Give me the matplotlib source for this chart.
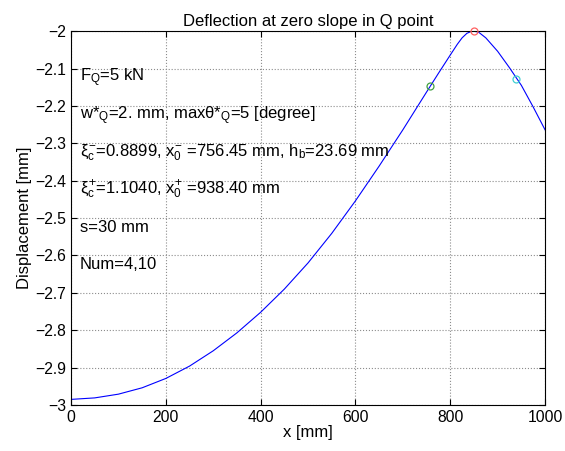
import matplotlib.pyplot as plt
import numpy as np

plt.rcParams['font.family'] = ['Liberation Sans', 'DejaVu Sans']
plt.rcParams['mathtext.fontset'] = 'custom'
plt.rcParams['mathtext.rm'] = 'Liberation Sans'
plt.rcParams['mathtext.it'] = 'Liberation Sans'
plt.rcParams['mathtext.bf'] = 'Liberation Sans:bold'

# curve
x_mm = [0, 50, 100, 150, 200, 250, 300, 350, 400, 450, 500, 550, 600,
        650, 700, 750, 775, 800, 815, 825, 835, 843, 850, 860, 875, 900,
        925, 950, 975, 1000]
w_mm = [-2.985, -2.981, -2.971, -2.954, -2.929, -2.896, -2.855, -2.807,
        -2.752, -2.690, -2.620, -2.541, -2.454, -2.361, -2.264, -2.163,
        -2.113, -2.064, -2.035, -2.018, -2.006, -2.0014, -2.000, -2.003,
        -2.018, -2.054, -2.098, -2.145, -2.203, -2.264]

# marked points
pt_x = [850, 756.45, 938.40]
pt_y = [-2.0, -2.148, -2.127]
pt_col = ['#ff6060', '#40a040', '#40d0d0']

notes = ['F$_Q$=5 kN',
         'w*$_Q$=2. mm, max\u03b8*$_Q$=5 [degree]',
         '$\\xi_c^{-}$=0.8899, $x_0^{-}$ =756.45 mm, h$_b$=23.69 mm',
         '$\\xi_c^{+}$=1.1040, $x_0^{+}$ =938.40 mm',
         's=30 mm',
         'Num=4,10']

fig = plt.figure(figsize=(5.65, 4.51), dpi=100)
ax = fig.add_axes([0.1257, 0.102, 0.839, 0.829])

ax.plot(x_mm, w_mm, color='blue', lw=0.8)
for px, py, c in zip(pt_x, pt_y, pt_col):
    ax.plot(px, py, 'o', mfc='none', mec=c, ms=5, mew=0.9, clip_on=False, zorder=5)

for i, t in enumerate(notes):
    ax.text(19, -2.125 - 0.1 * i, t, fontsize=12, va='center', ha='left')

ax.set_xlim(0, 1000)
ax.set_ylim(-3, -2)
ax.set_xticks(np.arange(0, 1001, 200))
ax.set_yticks(np.round(np.arange(-3, -1.99, 0.1), 1))
ax.set_yticklabels(['\u22123', '\u22122.9', '\u22122.8', '\u22122.7', '\u22122.6',
                    '\u22122.5', '\u22122.4', '\u22122.3', '\u22122.2', '\u22122.1',
                    '\u22122'])
ax.tick_params(direction='in', top=True, right=True, labelsize=11.3, length=4)
ax.grid(True, ls=':', color='0.55', lw=0.8)

ax.set_title('Deflection at zero slope in Q point', fontsize=12, pad=4)
ax.set_xlabel('x [mm]', fontsize=12, labelpad=0)
ax.set_ylabel('Displacement [mm]', fontsize=12, labelpad=2)

fig.savefig('out.png', dpi=100)
